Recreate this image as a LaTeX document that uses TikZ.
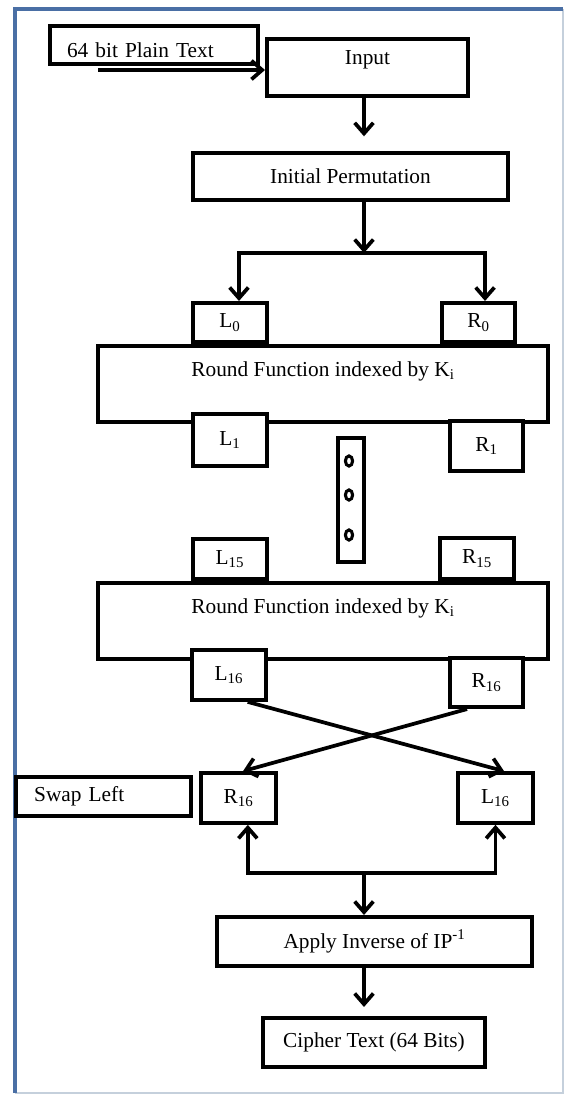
\documentclass[tikz,border=0pt]{standalone}
\usepackage{fontspec}
\setmainfont{Liberation Serif}
\usetikzlibrary{arrows.meta}
\definecolor{framebl}{HTML}{4A6FA5}
\definecolor{framegr}{HTML}{C5D0DC}
\newcommand{\lift}[2]{\raisebox{#1}[0pt][0pt]{#2}}

\begin{document}
\begin{tikzpicture}[x=0.75pt, y=-0.75pt, line width=2.8pt, >={Straight Barb[length=8pt,width=14pt]},
        blk/.style={rectangle, draw, fill=white, inner sep=0pt, font=\fontsize{16}{19}\selectfont}]
        \useasboundingbox (0,0) rectangle (568,1095);
        \draw[framegr, line width=1pt] (563,9) -- (563,1093) -- (15,1093);
        \draw[framebl, line width=2.6pt] (15,1093) -- (15,9) -- (563,9);

        \node at (154,45) [blk, minimum height=29pt, minimum width=156pt, text width=130.5pt, align=left] (plain) {\lift{-9.4pt}{64 bit Plain Text}};
        \node at (367.5,67.5) [blk, minimum height=43pt, minimum width=151pt] (input) {\lift{2.25pt}{Input}};
        \node at (350.5,176.5) [blk, minimum height=35.5pt, minimum width=236.5pt] (ip) {Initial Permutation};

        \node at (323,384) [blk, minimum height=57pt, minimum width=337.5pt] (round1) {\lift{6pt}{Round Function indexed by K\textsubscript{i}}};
        \node at (230,322.5) [blk, minimum height=29.5pt, minimum width=55.5pt] (L0) {L\textsubscript{0}};
        \node at (478.5,322.5) [blk, minimum height=29.5pt, minimum width=55pt] (R0) {R\textsubscript{0}};
        \node at (230,440) [blk, minimum height=39pt, minimum width=55.5pt] (L1) {L\textsubscript{1}};
        \node at (486.5,446) [blk, minimum height=37.5pt, minimum width=55pt] (R1) {R\textsubscript{1}};

        % dots between the rounds
        \node at (351,500) [blk, minimum height=93pt, minimum width=20pt] (dots) {};
        \foreach \yy in {461,495,535}
            \draw[line width=2.3pt] (349,\yy) ellipse [x radius=2.7pt, y radius=3.8pt];

        \node at (323,621) [blk, minimum height=57pt, minimum width=337.5pt] (round16) {\lift{6pt}{Round Function indexed by K\textsubscript{i}}};
        \node at (230,559) [blk, minimum height=30pt, minimum width=55.5pt] (L15) {L\textsubscript{15}};
        \node at (477,558.5) [blk, minimum height=31pt, minimum width=55.5pt] (R15) {R\textsubscript{15}};
        \node at (229,675) [blk, minimum height=37.5pt, minimum width=55.5pt] (L16) {L\textsubscript{16}};
        \node at (486.5,682.5) [blk, minimum height=37pt, minimum width=55pt] (R16) {R\textsubscript{16}};

        \node at (103.5,796.5) [blk, minimum height=29.5pt, minimum width=131.5pt, text width=104pt, align=left] (swap) {Swap Left};
        \node at (238.5,798) [blk, minimum height=37.5pt, minimum width=56.5pt] (R16s) {R\textsubscript{16}};
        \node at (495.5,798) [blk, minimum height=37.5pt, minimum width=56.5pt] (L16s) {L\textsubscript{16}};

        \node at (374.5,941.5) [blk, minimum height=37pt, minimum width=236.5pt] (apply) {Apply Inverse of IP\textsuperscript{-1}};
        \node at (374,1042.5) [blk, minimum height=37pt, minimum width=166.5pt] (cipher) {Cipher Text (64 Bits)};

        \coordinate (ptail) at (98,70);
        \coordinate (split) at (364,253);
        \coordinate (merge) at (364,873);

        \draw[->] (ptail) -- (ptail -| input.west);
        \draw[->, shorten >=11pt] (input.south -| split) -- (ip.north -| split);
        \draw[->] (ip.south -| split) -- (split);
        \draw[->] (split) -| ([xshift=6.75pt]L0.north);
        \draw[->] (split) -| ([xshift=4.9pt]R0.north);

        \draw[->] ([xshift=14pt]L16.south) -- ([xshift=6.4pt]L16s.north);
        \draw[->] ([xshift=-14.6pt]R16.south) -- ([xshift=3.4pt]R16s.north);

        \draw[->] (merge) -| ([xshift=7pt]R16s.south);
        \draw[->] (merge) -| (L16s.south);
        \draw[->] (merge) -- (apply.north -| merge);
        \draw[->, shorten >=6.75pt] (apply.south -| merge) -- (cipher.north -| merge);
\end{tikzpicture}
\end{document}
